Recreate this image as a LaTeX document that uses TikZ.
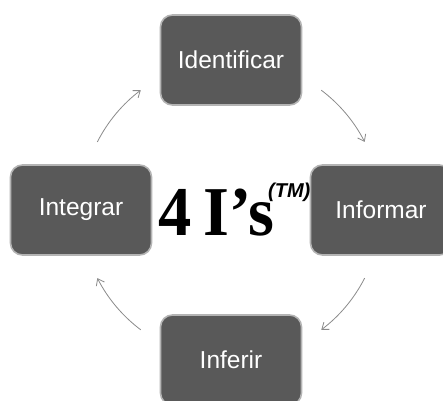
\documentclass[tikz,border=0pt]{standalone}
\usepackage{fontspec}
\setmainfont{Liberation Sans}
\newfontfamily\titlefont{Liberation Serif}
\newfontfamily\tmfont{Liberation Sans}
\usetikzlibrary{arrows.meta}
\definecolor{boxfill}{HTML}{595959}
\definecolor{boxedge}{HTML}{B4B4B4}
\definecolor{arcgray}{HTML}{8A8A8A}
\tikzset{
  stage/.style={draw=boxedge, line width=1.6pt, fill=boxfill, rounded corners=12pt,
    minimum width=141pt, minimum height=90pt, inner sep=0pt,
    text=white, font=\fontsize{24.5}{29}\selectfont},
  cyc/.style={draw=arcgray, line width=0.8pt, -{Straight Barb[length=6pt,width=9pt]}}
}
\begin{document}
\begin{tikzpicture}[x=1pt,y=1pt]
  \useasboundingbox (0,0) rectangle (443,400);
  \fill[white] (0,0) rectangle (443,400);
  \coordinate (c) at (231,190);
  % the four stages around the cycle
  \node[stage] (identificar) at (231,340) {Identificar};
  \node[stage] (informar) at (381,190) {Informar};
  \node[stage] (inferir) at (231,40) {Inferir};
  \node[stage] (integrar) at (81,190) {Integrar};
  % title in the middle
  \node[anchor=base west, inner sep=0pt, xscale=0.95,
    font=\titlefont\bfseries\fontsize{70}{70}\selectfont] (title) at (158,165) {4\hspace{0.18em}I’s};
  \node[anchor=south west, inner sep=0pt,
    font=\tmfont\bfseries\itshape\fontsize{20}{20}\selectfont] (tm) at (268,198) {(TM)};
  % clockwise arrows between the stages
  \draw[cyc] ([shift={(53:150)}]c) arc[start angle=53, end angle=27, radius=150];
  \draw[cyc] ([shift={(-27:150)}]c) arc[start angle=-27, end angle=-53, radius=150];
  \draw[cyc] ([shift={(-127:150)}]c) arc[start angle=-127, end angle=-153, radius=150];
  \draw[cyc] ([shift={(153:150)}]c) arc[start angle=153, end angle=127, radius=150];
\end{tikzpicture}
\end{document}
